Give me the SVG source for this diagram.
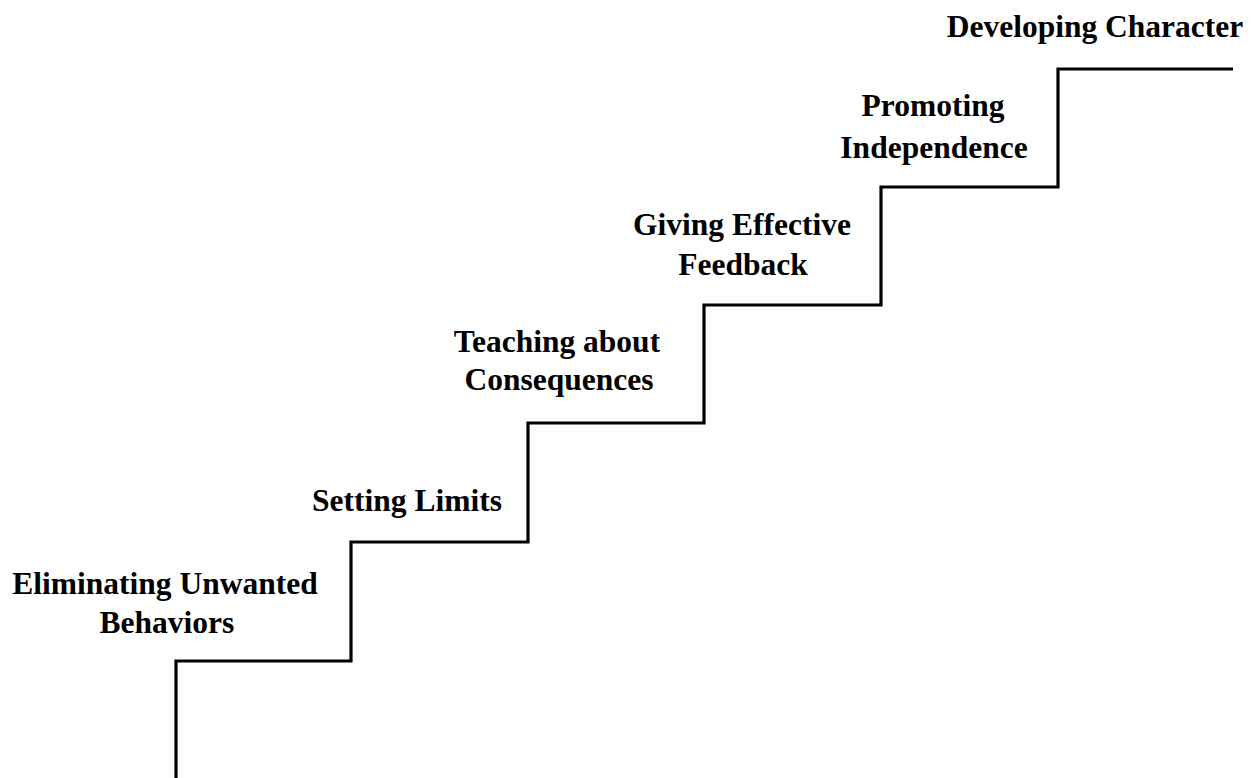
<svg xmlns="http://www.w3.org/2000/svg" width="1253" height="778" viewBox="0 0 1253 778">
  <style>
    .lbl { font-family: "Liberation Serif", "Times New Roman", serif; font-weight: bold; font-size: 31.5px; fill: #000; text-anchor: middle; }
    .stair { fill: none; stroke: #000; stroke-width: 3.2; stroke-linejoin: miter; stroke-linecap: butt; }
  </style>
  <rect width="1253" height="778" fill="#fff"/>

  <!-- staircase outline -->
  <g id="connectors">
    <path class="stair" d="M176 778 V661 H351 V542 H528 V423 H704 V305 H881 V187 H1058 V69 H1233"/>
  </g>

  <g id="step1">
    <text class="lbl" x="165" y="594">Eliminating Unwanted</text>
    <text class="lbl" x="167" y="633">Behaviors</text>
  </g>
  <g id="step2">
    <text class="lbl" x="407" y="511">Setting Limits</text>
  </g>
  <g id="step3">
    <text class="lbl" x="557" y="352">Teaching about</text>
    <text class="lbl" x="559" y="390">Consequences</text>
  </g>
  <g id="step4">
    <text class="lbl" x="742" y="235">Giving Effective</text>
    <text class="lbl" x="743" y="275">Feedback</text>
  </g>
  <g id="step5">
    <text class="lbl" x="933" y="116">Promoting</text>
    <text class="lbl" x="934" y="158">Independence</text>
  </g>
  <g id="step6">
    <text class="lbl" x="1095" y="37">Developing Character</text>
  </g>
</svg>
